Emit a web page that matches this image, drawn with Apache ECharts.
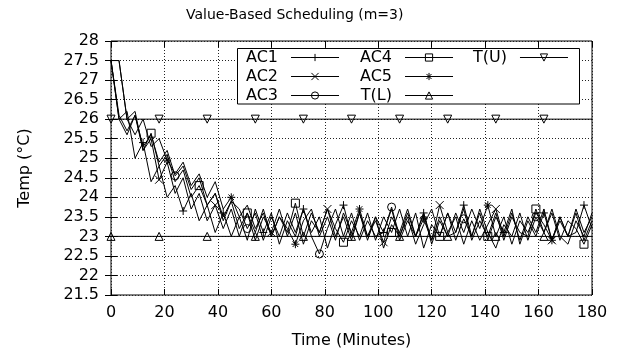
<!DOCTYPE html>
<html><head><meta charset="utf-8">
<script src="https://cdn.jsdelivr.net/npm/echarts@6/dist/echarts.min.js"></script>
<style>html,body{margin:0;padding:0;background:#fff}#c{width:628px;height:354px}</style>
</head><body><div id="c"></div>
<script>
// ---- data ----
const times = [
0,3,6,9,12,15,18,21,24,27,
30,33,36,39,42,45,48,51,54,57,
60,63,66,69,72,75,78,81,84,87,
90,93,96,99,102,105,108,111,114,117,
120,123,126,129,132,135,138,141,144,147,
150,153,156,159,162,165,168,171,174,177,
180];
const ac1 = [
27.5,26.0,26.2,25.0,25.4,24.4,24.8,24.0,24.3,23.65,
24.1,23.4,23.8,23.1,23.6,23.0,23.5,22.9,23.7,23.1,
23.6,22.8,23.4,23.0,23.7,23.1,23.5,22.7,23.3,23.8,
23.0,23.6,22.9,23.5,23.1,23.7,22.9,23.4,23.0,23.6,
22.8,23.4,23.0,23.1,23.8,23.0,23.6,22.9,23.5,23.1,
23.7,22.8,23.4,23.0,23.6,22.9,23.5,23.0,23.1,23.8,
23.2];
const ac2 = [
27.5,26.1,25.7,26.1,25.2,25.5,24.45,24.9,24.1,24.5,
23.7,24.1,23.4,23.8,23.2,23.7,23.0,23.6,22.9,23.5,
23.1,23.7,23.0,23.6,22.8,23.4,23.1,23.7,23.0,23.5,
22.9,23.6,23.0,23.4,22.85,23.5,23.1,23.7,23.0,23.6,
22.9,23.8,23.1,23.5,22.8,23.4,22.9,23.3,23.7,23.0,
23.6,22.9,23.5,23.1,23.7,22.9,23.4,23.0,23.6,22.9,
23.4];
const ac3 = [
27.5,26.0,25.6,26.1,25.3,25.6,24.9,25.2,24.55,24.8,
24.2,24.5,23.8,24.1,23.5,23.9,23.7,23.2,23.6,22.9,
23.5,23.0,23.6,23.1,23.7,23.0,22.55,23.2,23.7,23.0,
23.6,22.9,23.4,23.0,23.1,23.75,23.0,23.5,22.8,23.3,
23.7,23.0,23.6,22.9,23.45,23.0,23.7,23.1,22.7,23.3,
23.0,23.6,22.9,23.5,23.1,23.7,23.0,22.8,23.4,23.0,
23.6];
const ac4 = [
27.5,27.5,26.0,26.2,25.2,25.64,24.8,25.1,24.4,24.7,
24.0,24.3,23.8,24.1,23.4,23.9,23.2,23.6,23.1,23.7,
23.0,23.5,23.1,23.85,23.0,23.6,23.1,23.7,23.2,22.85,
23.4,23.0,23.6,22.9,23.5,23.1,23.7,23.0,23.6,22.7,
23.3,23.0,23.6,23.1,23.7,22.9,23.4,23.0,23.6,22.9,
23.5,23.1,23.0,23.7,23.1,23.6,22.9,23.4,23.2,22.8,
23.3];
const ac5 = [
27.5,27.5,26.0,25.6,26.0,25.3,25.5,24.95,24.6,24.9,
24.3,24.6,24.0,24.4,23.7,24.0,23.5,23.8,23.2,23.6,
23.0,23.5,23.2,22.8,23.4,23.7,23.0,23.5,22.9,23.6,
23.1,23.7,23.0,23.5,22.7,23.3,23.0,23.6,23.0,23.45,
22.9,23.5,23.0,23.6,23.1,23.7,23.2,23.8,23.0,23.5,
22.8,23.4,23.1,23.6,23.3,22.9,23.5,23.0,23.7,23.1,
23.5];
const tTimes = [0,18,36,54,72,90,108,126,144,162,180];
const tLower = [23,23,23,23,23,23,23,23,23,23,23];
const tUpper = [26,26,26,26,26,26,26,26,26,26,26];
// marker positions (data indices)
const ac1Marks = [4,9,14,19,24,29,34,39,44,49,54,59];
const ac2Marks = [6,13,20,27,34,41,48,55];
const ac3Marks = [8,17,26,35,44,53];
const ac4Marks = [5,11,17,23,29,35,41,47,53,59];
const ac5Marks = [7,15,23,31,39,47,55];
const tMarks = [0,1,2,3,4,5,6,7,8,9];
const xMin = 0, xMax = 180, xStep = 20;
const yMin = 21.5, yMax = 28, yStep = 0.5;

// ---- chart ----
const FONT = 'DejaVu Sans';
const plusPath = 'path://M5,0L5,10M0,5L10,5';
const crossPath = 'path://M0,0L10,10M0,10L10,0';
const starPath = 'path://M5,0L5,10M0,5L10,5M1.5,1.5L8.5,8.5M1.5,8.5L8.5,1.5';

function mkSeries(name, xs, ys, marks, symbol, rotate) {
  return {
    name, type: 'line', data: xs.map((x, i) => [x, ys[i]]),
    symbol, symbolRotate: rotate || 0,
    symbolSize: (v, p) => marks.includes(p.dataIndex) ? 8 : 0,
    showSymbol: true, showAllSymbol: true,
    lineStyle: { color: '#000', width: 1 },
    itemStyle: { color: 'rgba(0,0,0,0)', borderColor: '#000', borderWidth: 1 },
    emphasis: { disabled: true }, silent: true, animation: false
  };
}
function mkLegend(names, left) {
  return {
    data: names, left, top: 48, orient: 'vertical', align: 'right',
    itemGap: 0, itemWidth: 48, itemHeight: 9, padding: 0, z: 5,
    selectedMode: false,
    textStyle: { fontSize: 16, lineHeight: 19, color: '#000', fontFamily: FONT, padding: [0, 8, 0, 0] },
    itemStyle: { color: 'rgba(0,0,0,0)', borderColor: '#000', borderWidth: 1 },
    lineStyle: { color: '#000', width: 1 }
  };
}
const splitStyle = { show: true, lineStyle: { color: '#222', width: 1, type: [1, 2] } };
const tickStyle = { inside: true, length: 6, lineStyle: { color: '#000' } };
const labelStyle = { fontSize: 16, color: '#000', fontFamily: FONT };

const chart = echarts.init(document.getElementById('c'), null, { renderer: 'canvas' });
chart.setOption({
  animation: false,
  backgroundColor: '#fff',
  title: { text: 'Value-Based Scheduling (m=3)', left: 181, top: 3,
    textStyle: { fontSize: 14, fontWeight: 'normal', color: '#000', fontFamily: FONT } },
  grid: { left: 111, right: 36, top: 41, bottom: 59, show: true, borderColor: '#000', borderWidth: 1, backgroundColor: 'transparent' },
  xAxis: [
    { type: 'value', min: xMin, max: xMax, interval: xStep, position: 'bottom',
      name: 'Time (Minutes)', nameLocation: 'middle', nameGap: 38,
      nameTextStyle: labelStyle, axisLine: { show: false }, axisTick: tickStyle,
      axisLabel: Object.assign({ margin: 10 }, labelStyle), splitLine: splitStyle },
    { type: 'value', min: xMin, max: xMax, interval: xStep, position: 'top',
      axisLine: { show: false }, axisTick: tickStyle, axisLabel: { show: false }, splitLine: { show: false } }
  ],
  yAxis: [
    { type: 'value', min: yMin, max: yMax, interval: yStep, position: 'left',
      name: 'Temp (°C)', nameLocation: 'middle', nameGap: 78,
      nameTextStyle: labelStyle, axisLine: { show: false }, axisTick: tickStyle,
      axisLabel: Object.assign({ margin: 12 }, labelStyle), splitLine: splitStyle },
    { type: 'value', min: yMin, max: yMax, interval: yStep, position: 'right',
      axisLine: { show: false }, axisTick: tickStyle, axisLabel: { show: false }, splitLine: { show: false } }
  ],
  legend: [
    mkLegend(['AC1', 'AC2', 'AC3'], 246),
    mkLegend(['AC4', 'AC5', 'T(L)'], 360),
    mkLegend(['T(U)'], 473)
  ],
  graphic: [{ type: 'rect', z: 4, shape: { x: 237.5, y: 48.5, width: 342, height: 55.5 },
    style: { fill: '#fff', stroke: '#000', lineWidth: 1 } }],
  series: [
    mkSeries('AC1', times, ac1, ac1Marks, plusPath),
    mkSeries('AC2', times, ac2, ac2Marks, crossPath),
    mkSeries('AC3', times, ac3, ac3Marks, 'circle'),
    mkSeries('AC4', times, ac4, ac4Marks, 'rect'),
    mkSeries('AC5', times, ac5, ac5Marks, starPath),
    mkSeries('T(L)', tTimes, tLower, tMarks, 'triangle'),
    mkSeries('T(U)', tTimes, tUpper, tMarks, 'triangle', 180)
  ]
});
</script></body></html>
